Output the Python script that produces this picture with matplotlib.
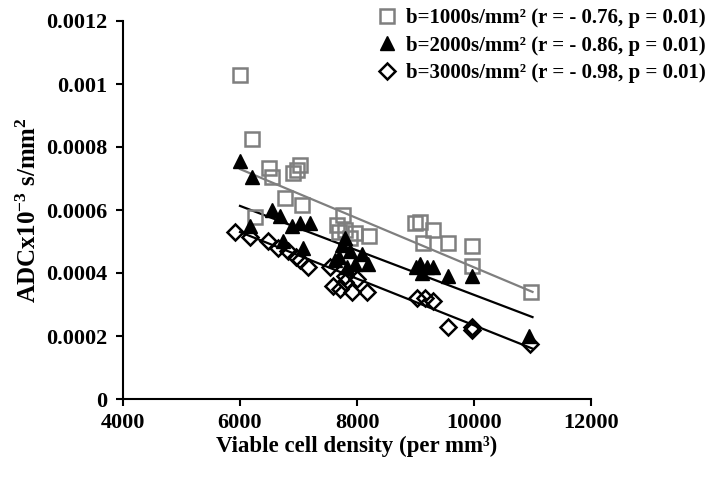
import matplotlib
matplotlib.use("Agg")
import matplotlib.pyplot as plt

plt.rcParams['font.family'] = ['Liberation Serif', 'DejaVu Serif']
plt.rcParams['font.weight'] = 'bold'
plt.rcParams['mathtext.fontset'] = 'custom'
plt.rcParams['mathtext.rm'] = 'Liberation Serif:bold'
plt.rcParams['mathtext.it'] = 'Liberation Serif:bold'
plt.rcParams['mathtext.bf'] = 'Liberation Serif:bold'

# ---- data ----
x_1000 = [6000, 6200, 6250, 6500, 6550, 6770, 6900, 6980, 7030, 7060,
          7660, 7760, 7800, 7970, 8200, 7700, 7880, 8990, 9080, 9130,
          9300, 9560, 9970, 9970, 10970]
adc_1000 = [0.00103, 0.000825, 0.000578, 0.000733, 0.000705, 0.000638, 0.000717, 0.000727, 0.000743, 0.000616,
            0.000552, 0.000584, 0.000537, 0.000527, 0.000517, 0.000530, 0.000510, 0.000559, 0.000562, 0.000495,
            0.000537, 0.000495, 0.000486, 0.000422, 0.000340]

x_2000 = [6000, 6200, 6170, 6550, 6680, 6890, 7030, 7200, 7080, 6730,
          7800, 7750, 7880, 7700, 7970, 7830, 7620, 8090, 8190, 9000,
          9080, 9200, 9300, 9110, 9560, 9970, 10940]
adc_2000 = [0.000756, 0.000705, 0.00055, 0.0006, 0.00058, 0.00055, 0.00056, 0.00056, 0.00048, 0.0005,
            0.00051, 0.00049, 0.00047, 0.00045, 0.00043, 0.00042, 0.00044, 0.00046, 0.00043, 0.00042,
            0.00043, 0.00042, 0.00042, 0.0004, 0.00039, 0.00039, 0.0002]

x_3000 = [5920, 6170, 6480, 6650, 6820, 7030, 7160, 6960, 7540, 7590,
          7710, 7800, 7910, 8000, 7800, 8170, 9030, 9160, 9300, 9560,
          9970, 9970, 10960]
adc_3000 = [0.00053, 0.000514, 0.0005, 0.00048, 0.00047, 0.00044, 0.00042, 0.00045, 0.00042, 0.00036,
            0.00035, 0.00037, 0.00034, 0.00038, 0.00039, 0.00034, 0.00032, 0.00032, 0.00031, 0.00023,
            0.00022, 0.00023, 0.000175]

trend_x = [6000, 11000]
trend_1000 = [0.00073, 0.00034]
trend_2000 = [0.000613, 0.00026]
trend_3000 = [0.00053, 0.00016]

labels = ['b=1000s/mm\u00b2 (r = - 0.76, p = 0.01)',
          'b=2000s/mm\u00b2 (r = - 0.86, p = 0.01)',
          'b=3000s/mm\u00b2 (r = - 0.98, p = 0.01)']

xticks = [4000, 6000, 8000, 10000, 12000]
yticks = [0, 0.0002, 0.0004, 0.0006, 0.0008, 0.001, 0.0012]
ytick_labels = ['0', '0.0002', '0.0004', '0.0006', '0.0008', '0.001', '0.0012']

fig = plt.figure(figsize=(7.2, 4.86), dpi=100)
ax = fig.add_axes([123/720, 1-399/486, (591-123)/720, (399-21)/486])

gray = '#7f7f7f'
ax.plot(trend_x, trend_1000, color=gray, lw=1.6, zorder=1)
ax.plot(trend_x, trend_2000, color='black', lw=1.6, zorder=1)
ax.plot(trend_x, trend_3000, color='black', lw=1.6, zorder=1)

h1, = ax.plot(x_1000, adc_1000, ls='none', marker='s', ms=10.5, mfc='none',
              mec=gray, mew=1.8, label=labels[0], zorder=2)
h3, = ax.plot(x_3000, adc_3000, ls='none', marker='D', ms=8, mfc='none',
              mec='black', mew=1.8, label=labels[2], zorder=3)
h2, = ax.plot(x_2000, adc_2000, ls='none', marker='^', ms=10.5, mfc='black',
              mec='black', label=labels[1], zorder=4)

ax.set_xlim(4000, 12000)
ax.set_ylim(0, 0.0012)
ax.set_xticks(xticks)
ax.set_xticklabels([str(t) for t in xticks])
ax.set_yticks(yticks)
ax.set_yticklabels(ytick_labels)
for s in ['top', 'right']:
    ax.spines[s].set_visible(False)
for s in ['left', 'bottom']:
    ax.spines[s].set_linewidth(1.5)
ax.tick_params(axis='both', direction='out', length=5, width=1.5, labelsize=16)
ax.tick_params(axis='y', pad=6)
ax.tick_params(axis='x', pad=5)
for lab in ax.get_xticklabels() + ax.get_yticklabels():
    lab.set_fontweight('bold')

ax.set_xlabel('Viable cell density (per mm\u00b3)', fontsize=16.5, fontweight='bold', labelpad=2)
ax.set_ylabel(r'ADCx10$^{-3}$ s/mm$^{2}$', fontsize=18, fontweight='bold', labelpad=4)

leg = ax.legend(handles=[h1, h2, h3], loc='upper right', bbox_to_anchor=(0.992, 1.0),
                bbox_transform=fig.transFigure, frameon=False, fontsize=15,
                handletextpad=0.3, labelspacing=0.35, handlelength=1.2, borderaxespad=0)
for t in leg.get_texts():
    t.set_fontweight('bold')

fig.savefig('out.png', dpi=100)
